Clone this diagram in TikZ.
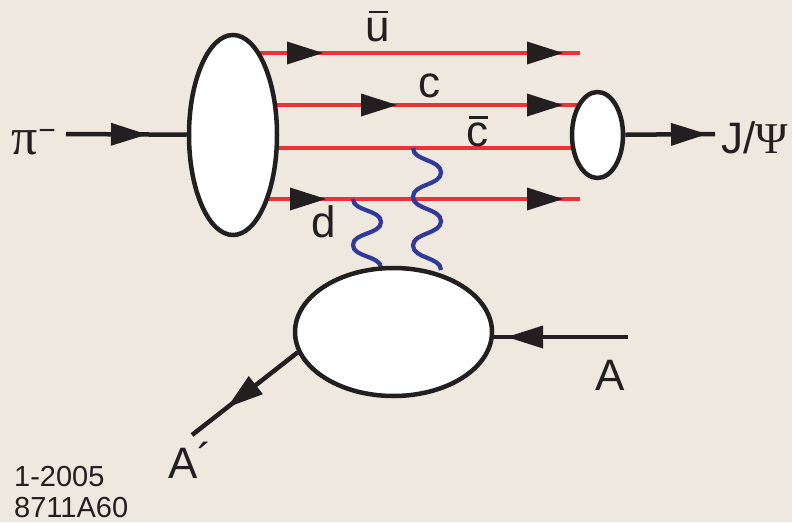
\documentclass[tikz,border=0pt]{standalone}
\usepackage{fontspec}
\setmainfont{Liberation Sans}
\newfontfamily\grk{Liberation Serif}
\usetikzlibrary{shapes.geometric,arrows.meta,decorations.markings}
\definecolor{bgc}{RGB}{238,232,223}
\definecolor{qred}{RGB}{236,50,55}
\definecolor{gblue}{RGB}{48,58,155}
\definecolor{ink}{RGB}{35,31,32}
\newcommand\ftip{\arrow{Triangle[length=36pt,width=23pt,color=ink,line width=0pt]}}
\newcommand\qbar[1]{\makebox[0pt][l]{\hspace{2.75pt}\raisebox{27.5pt}{\rule{19pt}{2.5pt}}}#1}
\tikzset{
  quark/.style={qred,line width=4.2pt},
  gluon/.style={gblue,line width=4.2pt},
  blob/.style={ellipse,draw=ink,fill=white,line width=4.5pt,inner sep=0pt},
  leg/.style={ink,line width=4.5pt},
  lbl/.style={font=\fontsize{44}{44}\selectfont,text=ink,inner sep=0pt,anchor=base},
  foot/.style={font=\fontsize{29}{29}\selectfont,text=ink,inner sep=0pt,text depth=0pt,anchor=base west},
  marks/.style={decoration={markings,#1},postaction=decorate},
}
\begin{document}
\begin{tikzpicture}[x=1pt,y=-1pt]
\fill[bgc] (0,0) rectangle (792,522);
\useasboundingbox (0,0) rectangle (792,522);
% centres and free ends
\coordinate (P) at (233,135);
\coordinate (J) at (597.5,135);
\coordinate (B) at (393.5,332);
\coordinate (ue) at (580,53);
\coordinate (ce) at (580,105);
\coordinate (cbe) at (597.5,148);
\coordinate (de) at (580,199);
\coordinate (g1) at (413,148);
\coordinate (g2) at (353,199);
\coordinate (pis) at (66,134);
\coordinate (jend) at (715,134);
\coordinate (As) at (628,337);
\coordinate (Ap) at (192,435);
% quark lines
\draw[quark,marks={mark=at position 90pt with {\ftip},mark=at position 330pt with {\ftip}}] (P |- ue) -- (ue);
\draw[quark,marks={mark=at position 164pt with {\ftip},mark=at position 330pt with {\ftip}}] (P |- ce) -- (ce);
\draw[quark] (P |- cbe) -- (cbe);
\draw[quark,marks={mark=at position 93pt with {\ftip},mark=at position 330pt with {\ftip}}] (P |- de) -- (de);
% gluons
\draw[gluon] (g1)
  .. controls +(0,13) and +(0,-13) .. ++(28,24.4)
  .. controls +(0,13) and +(0,-13) .. ++(-28,24.4)
  .. controls +(0,13) and +(0,-13) .. ++(28,24.4)
  .. controls +(0,13) and +(0,-13) .. ++(-28,24.4)
  .. controls +(0,13) and +(0,-13) .. ++(28,24.4);
\draw[gluon] (g2)
  .. controls +(0,12.5) and +(0,-12.5) .. ++(28,23)
  .. controls +(0,12.5) and +(0,-12.5) .. ++(-28,23)
  .. controls +(0,12.5) and +(0,-12.5) .. ++(28,23);
% blobs
\node[blob,minimum width=88pt,minimum height=200pt] (pin) at (P) {};
\node[blob,minimum width=51pt,minimum height=86pt] (jpsi) at (J) {};
\node[blob,minimum width=197pt,minimum height=128pt] (nuc) at (B) {};
% external legs
\draw[leg,marks={mark=at position 81pt with {\ftip}}] (pis) -- (pin);
\draw[leg,marks={mark=at position -8pt with {\ftip}}] (jpsi) -- (jend);
\draw[leg,marks={mark=at position 121pt with {\ftip}}] (As) -- (As -| nuc.east);
\draw[leg,marks={mark=at position -45pt with {\ftip}}] (nuc.192) -- (Ap);
% labels
\node[lbl] (lu) at (378,41) {\qbar{u}};
\node[lbl] (lc) at (429,97) {c};
\node[lbl] (lcb) at (477,146) {\qbar{c}};
\node[lbl] (ld) at (324,237) {d};
\node[lbl] (lA) at (610,390) {A};
\node[lbl,anchor=base west] (lAp) at (168,478) {A\raisebox{4pt}{´}};
\node[lbl,anchor=base west] (lJ) at (721,153) {J/{\grk Ψ}};
\node[lbl,anchor=base west] (lpi) at (11,154) {{\grk\fontsize{52}{52}\selectfont π}\hspace{1pt}\raisebox{14pt}{\fontsize{30}{30}\selectfont −}};
\node[foot] (date) at (14,486) {1-2005};
\node[foot] (code) at (14,517) {8711A60};
\end{tikzpicture}
\end{document}
